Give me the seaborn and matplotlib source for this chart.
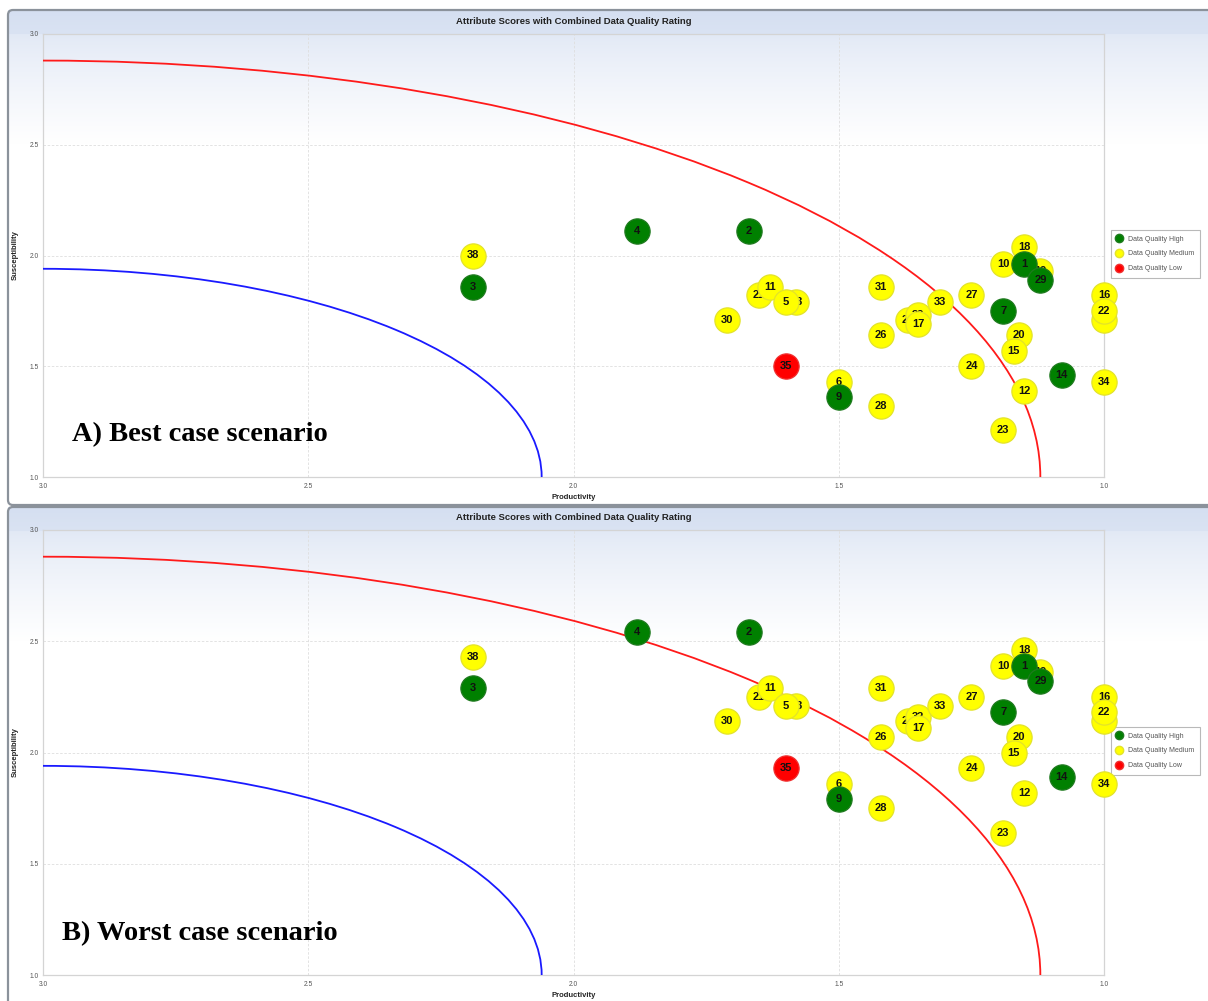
import numpy as np
import pandas as pd
import matplotlib
matplotlib.use('Agg')
import matplotlib.pyplot as plt
from matplotlib.patches import Arc, FancyBboxPatch
from matplotlib.lines import Line2D
from matplotlib.transforms import IdentityTransform
import seaborn as sns

# attribute ids in drawing order (later ones sit on top)
attr_id = ['38', '30', '21', '11', '13', '5', '6', '28', '31', '26', '25', '32', '17',
           '33', '27', '24', '18', '10', '19', '20', '15', '12', '23', '16', '37', '22',
           '34', '3', '4', '2', '9', '7', '1', '29', '14', '35']
quality = ['Medium'] * 27 + ['High'] * 8 + ['Low']
productivity = [2.19, 1.71, 1.65, 1.63, 1.58, 1.60, 1.50, 1.42, 1.42, 1.42, 1.37, 1.35, 1.35,
                1.31, 1.25, 1.25, 1.15, 1.19, 1.12, 1.16, 1.17, 1.15, 1.19, 1.00, 1.00, 1.00,
                1.00, 2.19, 1.88, 1.67, 1.50, 1.19, 1.15, 1.12, 1.08, 1.60]
susc_best = [2.00, 1.71, 1.82, 1.86, 1.79, 1.79, 1.43, 1.32, 1.86, 1.64, 1.71, 1.73, 1.69,
             1.79, 1.82, 1.50, 2.04, 1.96, 1.93, 1.64, 1.57, 1.39, 1.21, 1.82, 1.71, 1.75,
             1.43, 1.86, 2.11, 2.11, 1.36, 1.75, 1.96, 1.89, 1.46, 1.50]
susc_worst = [2.43, 2.14, 2.25, 2.29, 2.21, 2.21, 1.86, 1.75, 2.29, 2.07, 2.14, 2.16, 2.11,
              2.21, 2.25, 1.93, 2.46, 2.39, 2.36, 2.07, 2.00, 1.82, 1.64, 2.25, 2.14, 2.18,
              1.86, 2.29, 2.54, 2.54, 1.79, 2.18, 2.39, 2.32, 1.89, 1.93]

# threshold arcs centred at (3, 1)
outer_radius = 1.88
inner_radius = 0.94

ticks = [3.0, 2.5, 2.0, 1.5, 1.0]
title = 'Attribute Scores with Combined Data Quality Rating'
scenarios = ['A) Best case scenario', 'B) Worst case scenario']

colors = {'High': '#008000', 'Medium': '#ffff00', 'Low': '#ff0000'}
edges = {'High': '#1f7a1f', 'Medium': '#e3e32a', 'Low': '#f03030'}

sns.set_theme(style='white')
plt.rcParams['font.family'] = ['Liberation Sans', 'DejaVu Sans']

W, H = 1208, 1001
fig = plt.figure(figsize=(W / 100, H / 100), dpi=100)


def gradient(height):
    top = np.array([0.835, 0.875, 0.945])
    mid = np.array([0.885, 0.912, 0.962])
    img = np.ones((height, 1, 3))
    for r in range(height):
        if r < 24:
            img[r, 0] = top + (mid - top) * 0.4 * r / 24
        else:
            t = min(1.0, (r - 24) / 110.0)
            img[r, 0] = mid + (1 - mid) * (t ** 0.8)
    return img


panels = [(10, 505), (507, 1012)]
axes_boxes = [(34, 477), (530, 975)]
text_pos = [(0.0273, 0.081), (0.018, 0.079)]

for k, (susc, (p_top, p_bot), (a_top, a_bot)) in enumerate(
        zip([susc_best, susc_worst], panels, axes_boxes)):
    # panel background + border
    bg = fig.add_axes([8 / W, 1 - p_bot / H, 1.02, (p_bot - p_top) / H], zorder=-5)
    bg.imshow(gradient(p_bot - p_top), aspect='auto', extent=[0, 1, 0, 1])
    bg.axis('off')
    border = FancyBboxPatch((8, H - p_bot), 1300, p_bot - p_top,
                            boxstyle='round,pad=0,rounding_size=5',
                            transform=IdentityTransform(), facecolor='none',
                            edgecolor='#8b929b', linewidth=1.6, zorder=-4)
    fig.add_artist(border)

    ax = fig.add_axes([43 / W, 1 - a_bot / H, (1104 - 43) / W, (a_bot - a_top) / H])
    ax.set_facecolor('none')

    df = pd.DataFrame({'id': attr_id, 'quality': quality,
                       'Productivity': productivity, 'Susceptibility': susc})
    for i, row in df.iterrows():
        z = 10 + 2 * i
        sns.scatterplot(x=[row['Productivity']], y=[row['Susceptibility']], ax=ax,
                        color=colors[row['quality']], edgecolor=edges[row['quality']],
                        s=330, linewidth=0.9, legend=False, zorder=z, clip_on=False)
        ax.text(row['Productivity'], row['Susceptibility'], row['id'], ha='center',
                va='center', fontsize=8, fontweight='bold', color='#111111',
                zorder=z + 1)

    ax.add_patch(Arc((3.0, 1.0), 2 * outer_radius, 2 * outer_radius, theta1=90,
                     theta2=180, color='#ff1a1a', linewidth=1.3, zorder=5))
    ax.add_patch(Arc((3.0, 1.0), 2 * inner_radius, 2 * inner_radius, theta1=90,
                     theta2=180, color='#1a1aff', linewidth=1.3, zorder=5))

    ax.set_xlim(3.0, 1.0)
    ax.set_ylim(1.0, 3.0)
    ax.set_xticks(ticks)
    ax.set_yticks(ticks)
    ax.set_xticklabels([f'{t:.1f}' for t in ticks])
    ax.set_yticklabels([f'{t:.1f}' for t in ticks])
    ax.tick_params(length=0, labelsize=4.8, colors='#555555', pad=4)
    ax.tick_params(axis='y', pad=3)
    ax.grid(True, color='#dedede', linestyle=(0, (3, 2)), linewidth=0.6)
    for sp in ax.spines.values():
        sp.set_color('#d4d4d4')
        sp.set_linewidth(0.9)
    ax.set_xlabel('Productivity', fontsize=5.5, fontweight='bold', color='#222222',
                  labelpad=3)
    ax.set_ylabel('Susceptibility', fontsize=5.5, fontweight='bold', color='#222222',
                  labelpad=8)
    ax.set_title(title, fontsize=6.8, fontweight='bold', color='#222222', pad=7)

    handles = [Line2D([], [], marker='o', linestyle='none', markersize=6,
                      markerfacecolor=colors[q], markeredgecolor=edges[q],
                      label=f'Data Quality {q}') for q in ['High', 'Medium', 'Low']]
    leg = ax.legend(handles=handles, loc='upper left', bbox_to_anchor=(1.0066, 0.557),
                    borderaxespad=0, fontsize=5.0, frameon=True, fancybox=False,
                    handletextpad=0.9, labelspacing=1.1, borderpad=0.8,
                    handlelength=0.8)
    leg.get_frame().set_edgecolor('#a8a8a8')
    leg.get_frame().set_linewidth(0.8)
    for t in leg.get_texts():
        t.set_color('#555555')

    ax.text(text_pos[k][0], text_pos[k][1], scenarios[k],
            transform=ax.transAxes, fontsize=20.5, fontweight='bold',
            family=['Liberation Serif', 'DejaVu Serif'], color='#000000',
            va='baseline', ha='left', zorder=100)

fig.savefig('out.png', dpi=100)
